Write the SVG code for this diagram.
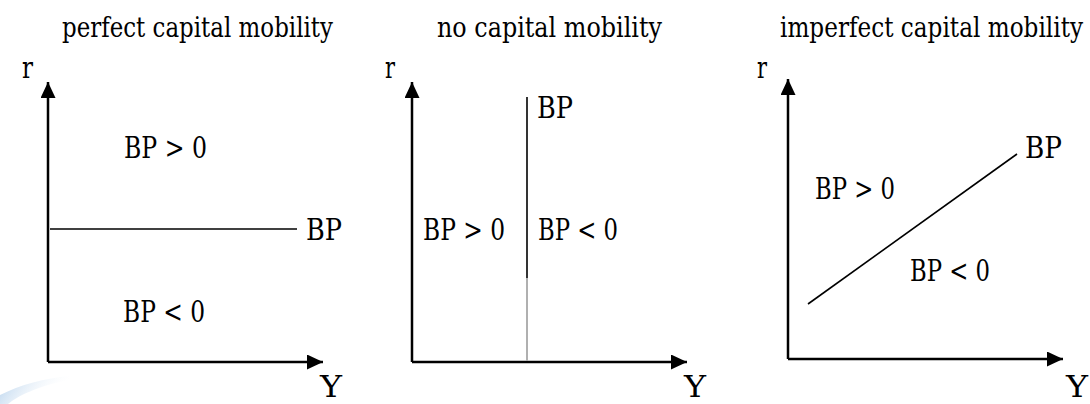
<svg xmlns="http://www.w3.org/2000/svg" width="1090" height="404" viewBox="0 0 1090 404">
<defs>
<marker id="ah" markerUnits="userSpaceOnUse" markerWidth="18" markerHeight="16" refX="16" refY="7.5" orient="auto">
<path d="M0,0 L16,7.5 L0,15 Z" fill="#000"/>
</marker>
<linearGradient id="sw" x1="0" y1="0" x2="1" y2="0.3">
<stop offset="0" stop-color="#9fc3e6" stop-opacity="0.8"/>
<stop offset="1" stop-color="#ffffff" stop-opacity="0"/>
</linearGradient>
<style>
.f{font-family:"DejaVu Serif","Liberation Serif","Times New Roman",serif;fill:#000}
.t{font-size:27px}
.l{font-size:29px}
.ax{stroke:#000;stroke-width:2.5;fill:none}
.bp{stroke:#000;stroke-width:1.6;fill:none}
</style>
</defs>
<rect width="1090" height="404" fill="#fff"/>
<path d="M0,395 C20,385 45,378 70,376 L70,380 C45,384 20,394 8,404 L0,404 Z" fill="url(#sw)"/>

<g class="f">
<g id="panel-perfect">
<text class="t" x="62" y="37" textLength="271" lengthAdjust="spacingAndGlyphs">perfect capital mobility</text>
<text class="l" x="22" y="78" textLength="11" lengthAdjust="spacingAndGlyphs">r</text>
<text class="l" x="124" y="158" textLength="83" lengthAdjust="spacingAndGlyphs">BP &gt; 0</text>
<text class="l" x="306" y="240" textLength="36" lengthAdjust="spacingAndGlyphs">BP</text>
<text class="l" x="123" y="322" textLength="82" lengthAdjust="spacingAndGlyphs">BP &lt; 0</text>
<text class="l" x="320" y="397" textLength="22" lengthAdjust="spacingAndGlyphs">Y</text>
</g>

<g id="panel-none">
<text class="t" x="437" y="37" textLength="225" lengthAdjust="spacingAndGlyphs">no capital mobility</text>
<text class="l" x="385" y="78" textLength="10" lengthAdjust="spacingAndGlyphs">r</text>
<text class="l" x="537" y="118" textLength="36" lengthAdjust="spacingAndGlyphs">BP</text>
<text class="l" x="423" y="240" textLength="82" lengthAdjust="spacingAndGlyphs">BP &gt; 0</text>
<text class="l" x="538" y="240" textLength="80" lengthAdjust="spacingAndGlyphs">BP &lt; 0</text>
<text class="l" x="684" y="397" textLength="22" lengthAdjust="spacingAndGlyphs">Y</text>
</g>

<g id="panel-imperfect">
<text class="t" transform="translate(780,37) scale(0.858,1)" x="0" y="0">imperfect capital mobility</text>
<text class="l" x="757" y="78" textLength="10" lengthAdjust="spacingAndGlyphs">r</text>
<text class="l" x="1025" y="158" textLength="37" lengthAdjust="spacingAndGlyphs">BP</text>
<text class="l" x="815" y="199" textLength="80" lengthAdjust="spacingAndGlyphs">BP &gt; 0</text>
<text class="l" x="910" y="281" textLength="80" lengthAdjust="spacingAndGlyphs">BP &lt; 0</text>
<text class="l" x="1066" y="397" textLength="22" lengthAdjust="spacingAndGlyphs">Y</text>
</g>
</g>

<g id="connectors">
<path class="ax" d="M48,362 L48,82" marker-end="url(#ah)"/>
<path class="ax" d="M48,362 L323,362" marker-end="url(#ah)"/>
<path class="bp" d="M50,229 L297,229"/>

<path class="ax" d="M412,362 L412,82" marker-end="url(#ah)"/>
<path class="ax" d="M412,362 L687,362" marker-end="url(#ah)"/>
<path class="bp" d="M527,97 L527,278"/>
<path d="M527,278 L527,361" stroke="#a8a8a8" stroke-width="1.8" fill="none"/>

<path class="ax" d="M788,359 L788,79" marker-end="url(#ah)"/>
<path class="ax" d="M788,359 L1063,359" marker-end="url(#ah)"/>
<path class="bp" d="M808,304 L1017,154"/>
</g>
</svg>
